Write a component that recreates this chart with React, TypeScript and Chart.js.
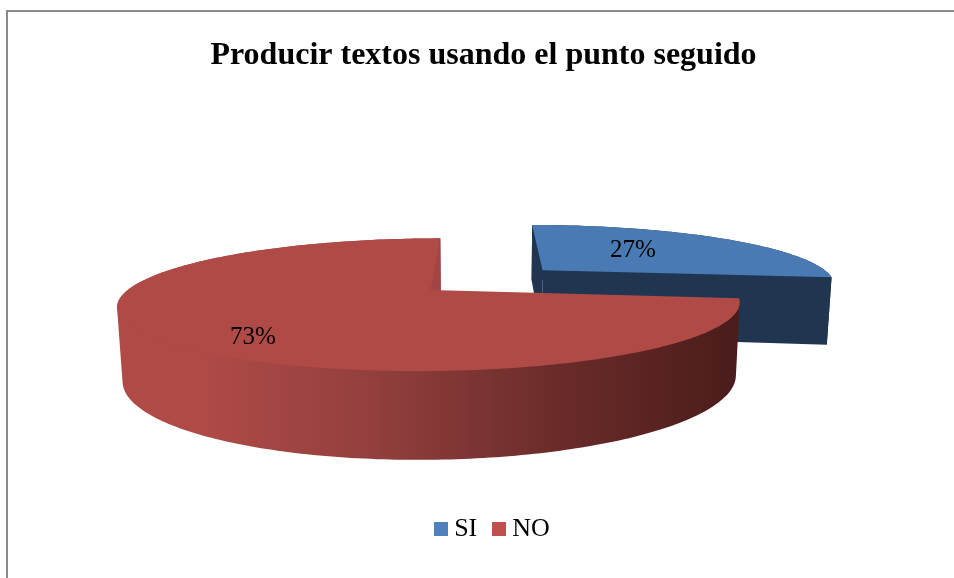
import React, { useEffect, useRef } from "react";
import { Chart, registerables } from "chart.js";

Chart.register(...registerables);

const TITLE = "Producir textos usando el punto seguido";
const categories = ["SI", "NO"];
const values = [27, 73];
const legendColors = ["#4F81BD", "#C0504D"];
const topColors = ["#4A7AB3", "#AF4A47"];
const wallColors = ["#1F3550", "#A34543"];
const explosion = [0.51, 0];
const labelAnchors = [
  [0.364, -0.4],
  [-0.479, 0.644],
];

const SERIF = "'Liberation Serif', 'Times New Roman', serif";

// Camera of the tilted pie: disc coordinates (u, v), h = 0 top face, h = 1 bottom face
function project(u: number, v: number, h: number): [number, number] {
  const d = 4.5 - v + 0.065 * h;
  return [482 + (1365 * (u - 0.168)) / d, 6 + (1278 + 340 * h) / d];
}

function swatch(color: string) {
  const c = document.createElement("canvas");
  c.width = 14;
  c.height = 14;
  const g = c.getContext("2d")!;
  g.fillStyle = color;
  g.fillRect(0, 0, 14, 14);
  return c;
}

const framePlugin = {
  id: "frame",
  beforeDraw(chart: any) {
    const { ctx, width, height } = chart;
    ctx.save();
    ctx.fillStyle = "#FFFFFF";
    ctx.fillRect(0, 0, width, height);
    ctx.fillStyle = "#8A8A8A";
    ctx.fillRect(6, 10, width - 6, 2);
    ctx.fillRect(6, 10, 2, height - 10);
    ctx.restore();
  },
};

const pie3dPlugin = {
  id: "pie3d",
  beforeDatasetsDraw(chart: any) {
    const { ctx } = chart;
    const arcs = chart.getDatasetMeta(0).data;
    const total = values.reduce((a, b) => a + b, 0);

    const drawSlice = (i: number) => {
      const arc = arcs[i];
      const { startAngle, endAngle } = arc.getProps(["startAngle", "endAngle"], true);
      const mid = (startAngle + endAngle) / 2;
      const ou = Math.cos(mid) * explosion[i];
      const ov = Math.sin(mid) * explosion[i];
      const pt = (r: number, a: number, h: number) =>
        project(ou + r * Math.cos(a), ov + r * Math.sin(a), h);
      const steps = Math.ceil(((endAngle - startAngle) * 180) / Math.PI);
      const rim = (h: number, r = 1) => {
        const out: [number, number][] = [];
        for (let s = 0; s <= steps; s++) {
          out.push(pt(r, startAngle + ((endAngle - startAngle) * s) / steps, h));
        }
        return out;
      };
      const addPoly = (pts: [number, number][]) => {
        pts.forEach((p, k) => (k ? ctx.lineTo(p[0], p[1]) : ctx.moveTo(p[0], p[1])));
        ctx.closePath();
      };
      const fillPoly = (pts: [number, number][], fill: any) => {
        ctx.beginPath();
        addPoly(pts);
        ctx.fillStyle = fill;
        ctx.fill();
      };
      const top = rim(0);
      const inner = rim(0, 0.97);
      const bottom = rim(1);

      // outer wall: one path of same-winding facets, so there are no seams or holes;
      // it runs a little under the top face so that no background shows along the rim
      let wallFill: any = wallColors[i];
      if (i === 1) {
        const g = ctx.createLinearGradient(116, 0, 740, 0);
        g.addColorStop(0, "#AF4A47");
        g.addColorStop(0.14, "#AF4A47");
        g.addColorStop(0.4, "#94403E");
        g.addColorStop(0.7, "#6B2C2A");
        g.addColorStop(1, "#4A1C1B");
        wallFill = g;
      }
      const addFacet = (quad: [number, number][]) => {
        let area = 0;
        quad.forEach((p, k) => {
          const q = quad[(k + 1) % 4];
          area += p[0] * q[1] - q[0] * p[1];
        });
        addPoly(area < 0 ? quad.reverse() : quad);
      };
      ctx.beginPath();
      for (let s = 0; s < steps; s++) {
        addFacet([top[s], top[s + 1], bottom[s + 1], bottom[s]]);
        addFacet([inner[s], inner[s + 1], top[s + 1], top[s]]);
      }
      ctx.fillStyle = wallFill;
      ctx.fill();

      // radial walls: the one behind the top face is hidden for the large slice
      if (i === 0) {
        fillPoly(
          [pt(0, startAngle, 0), pt(1, startAngle, 0), pt(1, startAngle, 1), pt(0, startAngle, 1)],
          wallColors[i]
        );
      }
      fillPoly(
        [pt(0, endAngle, 0), pt(1, endAngle, 0), pt(1, endAngle, 1), pt(0, endAngle, 1)],
        wallColors[i]
      );

      // top face
      fillPoly([pt(0, 0, 0), ...top], arc.options.backgroundColor);
    };

    drawSlice(0);
    drawSlice(1);

    ctx.save();
    ctx.fillStyle = "#000000";
    ctx.font = `25px ${SERIF}`;
    ctx.textAlign = "center";
    ctx.textBaseline = "middle";
    values.forEach((val, i) => {
      const arc = arcs[i];
      const mid = (arc.startAngle + arc.endAngle) / 2;
      const [x, y] = project(
        Math.cos(mid) * explosion[i] + labelAnchors[i][0],
        Math.sin(mid) * explosion[i] + labelAnchors[i][1],
        0
      );
      ctx.fillText(`${Math.round((val / total) * 100)}%`, x, y);
    });
    ctx.restore();
    return false;
  },
};

const legendShiftPlugin = {
  id: "legendShift",
  beforeDraw(chart: any) {
    if (!chart.legend.__shifted) {
      chart.legend.left += 11.5;
      chart.legend.right += 11.5;
      chart.legend.__shifted = true;
    }
  },
};

export default function App() {
  const ref = useRef<HTMLCanvasElement>(null);
  useEffect(() => {
    const chart = new Chart(ref.current!, {
      type: "pie",
      data: {
        labels: categories,
        datasets: [{ data: values, backgroundColor: topColors, borderWidth: 0 }],
      },
      plugins: [framePlugin, pie3dPlugin, legendShiftPlugin],
      options: {
        animation: false,
        responsive: false,
        layout: { padding: { left: 13, bottom: 26 } },
        plugins: {
          tooltip: { enabled: false },
          title: {
            display: true,
            text: TITLE,
            color: "#000000",
            font: { family: SERIF, size: 32, weight: "bold", lineHeight: 1.2 },
            padding: { top: 37, bottom: 10 },
          },
          legend: {
            position: "bottom",
            labels: {
              color: "#000000",
              font: { family: SERIF, size: 26 },
              usePointStyle: true,
              pointStyleWidth: 1,
              padding: 21,
              generateLabels: () =>
                categories.map((text, i) => ({
                  text,
                  pointStyle: swatch(legendColors[i]),
                  fillStyle: legendColors[i],
                  strokeStyle: legendColors[i],
                  lineWidth: 0,
                  hidden: false,
                  index: i,
                })),
            },
          },
        },
      },
    } as any);
    return () => chart.destroy();
  }, []);
  return (
    <canvas
      ref={ref}
      width={954}
      height={578}
      style={{ position: "absolute", left: 0, top: 0, display: "block" }}
    />
  );
}
